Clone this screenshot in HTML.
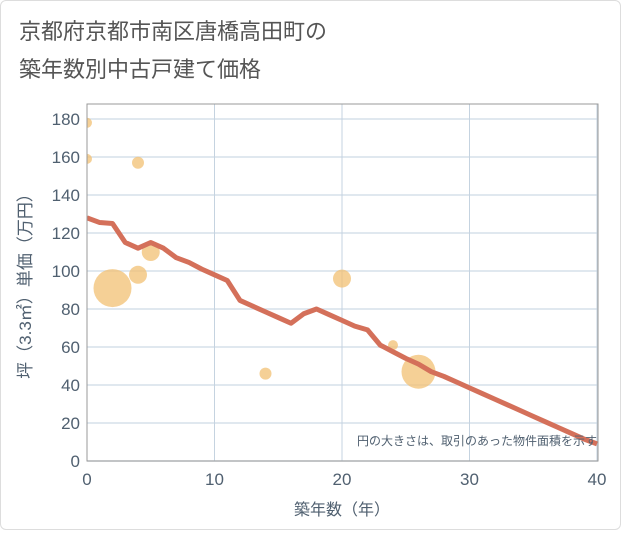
<!DOCTYPE html>
<html><head><meta charset="utf-8"><style>
body{margin:0;background:#fff;font-family:"Liberation Sans","Noto Sans CJK JP",sans-serif}
#c{position:relative;width:621px;height:530px;border:1px solid #ddd;box-sizing:border-box;border-radius:6px}
</style></head><body>
<div id="c">
<svg width="621" height="530" id="svg">
<defs><clipPath id="pc"><rect x="86" y="103" width="511" height="357"/></clipPath></defs>
<text x="18" y="38" font-size="22" fill="#555" font-family="Liberation Sans, Noto Sans CJK JP, sans-serif">京都府京都市南区唐橋高田町の</text>
<text x="18" y="76" font-size="22" fill="#555" font-family="Liberation Sans, Noto Sans CJK JP, sans-serif">築年数別中古戸建て価格</text>
<g id="grid"></g><g id="marks" clip-path="url(#pc)"></g>
<rect x="86" y="103" width="511" height="357" fill="none" stroke="#999" stroke-width="1"/>
<text x="596" y="444" font-size="12" fill="#506070" text-anchor="end" font-family="Liberation Sans, Noto Sans CJK JP, sans-serif">円の大きさは、取引のあった物件面積を示す</text>
<text x="341" y="514" font-size="16" fill="#506070" text-anchor="middle" font-family="Liberation Sans, Noto Sans CJK JP, sans-serif">築年数（年）</text>
<text transform="translate(30,281) rotate(-90)" font-size="17" fill="#506070" text-anchor="middle" font-family="Liberation Sans, Noto Sans CJK JP, sans-serif">坪（3.3㎡）単価（万円）</text>
</svg></div>
<script>
const xTicks=[0,10,20,30,40];
const yTicks=[0,20,40,60,80,100,120,140,160,180];
const lineYears=[0,1,2,3,4,5,6,7,8,9,10,11,12,13,14,15,16,17,18,19,20,21,22,23,24,25,26,27,28,29,30,31,32,33,34,35,36,37,38,39,40];
const lineValues=[128,125.5,125,115,112,115,112,107,104.5,101,98,95,84.5,81.5,78.5,75.5,72.5,77.5,80,77,74,71,69,61,57.5,54,51,47,44.5,41.5,38.5,35.5,32.5,29.5,26.5,23.5,20.5,17.5,14.5,11.5,9];
const bubbleYears=[0,0,4,2,4,5,20,14,24,26];
const bubbleValues=[178,159,157,91,98,110,96,46,61,47];
const bubbleSizes=[5,5,6,19,9,9,9,6,5,17];
const X=v=>86+v*12.75, Y=v=>460-v*1.9;
const NS="http://www.w3.org/2000/svg";
const grid=document.getElementById('grid'), marks=document.getElementById('marks');
function mk(tag,attrs,parent){const e=document.createElementNS(NS,tag);for(const k in attrs)e.setAttribute(k,attrs[k]);parent.appendChild(e);return e;}
yTicks.forEach(t=>{
  const l=mk('line',{x1:86,x2:597,y1:Y(t),y2:Y(t),stroke:'#d5e0ea','stroke-width':1.5},grid);
  
  
  const tx=mk('text',{x:79,y:Y(t)+6,'font-size':17,fill:'#506070','text-anchor':'end'},grid);
  tx.textContent=t;
  
  
});
xTicks.forEach(t=>{
  const l=mk('line',{x1:X(t),x2:X(t),y1:103,y2:460,stroke:'#c5d3e0','stroke-width':1},grid);
  
  
  const tx=mk('text',{x:X(t),y:484,'font-size':17,fill:'#506070','text-anchor':'middle'},grid);
  tx.textContent=t;
  
  
});
bubbleYears.forEach((yr,i)=>{
  const c=mk('circle',{cx:X(yr),cy:Y(bubbleValues[i]),r:bubbleSizes[i],fill:'#f2c073','fill-opacity':0.75},marks);
  
  
});
const p=mk('polyline',{points:lineYears.map((yr,i)=>X(yr)+','+Y(lineValues[i])).join(' '),fill:'none',stroke:'#d4705a','stroke-width':5,'stroke-linejoin':'round'},marks);


</script>
</body></html>
